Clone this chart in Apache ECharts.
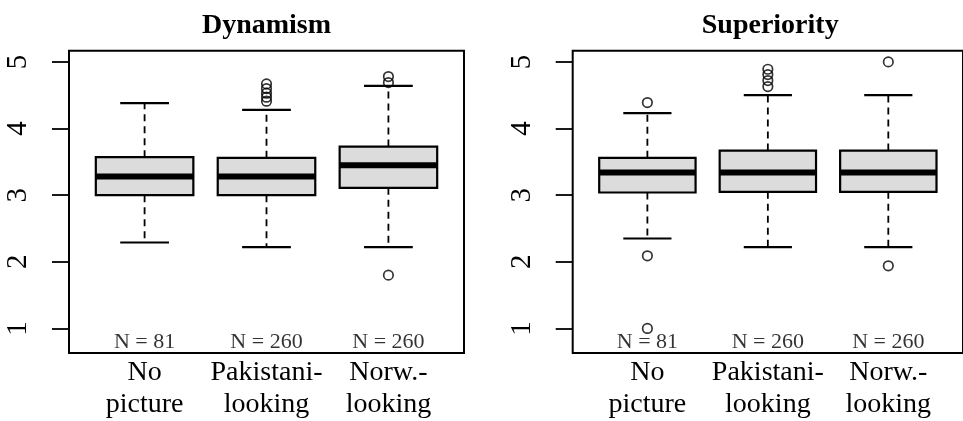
<!DOCTYPE html>
<html><head><meta charset="utf-8">
<script src="https://cdn.jsdelivr.net/npm/echarts@6/dist/echarts.min.js"></script>
<style>html,body{margin:0;padding:0;background:#fff}#c{width:963px;height:421px}</style>
</head><body><div id="c"></div>
<script>
const categories = ['No\npicture', 'Pakistani-\nlooking', 'Norw.-\nlooking'];
const nCounts = [81, 260, 260];
const yTicks = [1, 2, 3, 4, 5];
const panelTitles = ['Dynamism', 'Superiority'];
// each box: [lower whisker, Q1, median, Q3, upper whisker]
const dynamismBoxes = [
  [2.29, 3.00, 3.28, 3.57, 4.38],
  [2.22, 3.00, 3.28, 3.56, 4.28],
  [2.22, 3.11, 3.45, 3.73, 4.64]
];
// outliers: [category number, value]
const dynamismOutliers = [
  [2, 4.67], [2, 4.60], [2, 4.53], [2, 4.47], [2, 4.41],
  [3, 4.78], [3, 4.69], [3, 1.80]
];
const superiorityBoxes = [
  [2.35, 3.04, 3.34, 3.56, 4.23],
  [2.22, 3.05, 3.34, 3.67, 4.50],
  [2.22, 3.05, 3.34, 3.67, 4.50]
];
const superiorityOutliers = [
  [1, 4.39], [1, 2.09], [1, 1.00],
  [2, 4.89], [2, 4.81], [2, 4.72], [2, 4.63],
  [3, 5.00], [3, 1.94]
];

const SERIF = "'Liberation Serif', 'DejaVu Serif', serif";
const BOX_WIDTH = 0.8;
const N_LABEL_Y = 0.8;

function renderBox(params, api) {
  const x = api.value(0);
  const pLo = api.coord([x, api.value(1)]);
  const pQ1 = api.coord([x, api.value(2)]);
  const pMed = api.coord([x, api.value(3)]);
  const pQ3 = api.coord([x, api.value(4)]);
  const pHi = api.coord([x, api.value(5)]);
  const halfW = api.size([BOX_WIDTH, 0])[0] / 2;
  const capW = halfW / 2;
  const cx = pLo[0];
  const dash = { stroke: '#000', lineWidth: 1.8, lineDash: [7, 5], fill: null };
  const solid = { stroke: '#000', lineWidth: 2.2, fill: null };
  return {
    type: 'group',
    children: [
      { type: 'line', shape: { x1: cx, y1: pQ1[1], x2: cx, y2: pLo[1] }, style: dash },
      { type: 'line', shape: { x1: cx, y1: pQ3[1], x2: cx, y2: pHi[1] }, style: dash },
      { type: 'line', shape: { x1: cx - capW, y1: pLo[1], x2: cx + capW, y2: pLo[1] }, style: solid },
      { type: 'line', shape: { x1: cx - capW, y1: pHi[1], x2: cx + capW, y2: pHi[1] }, style: solid },
      { type: 'rect', shape: { x: cx - halfW, y: pQ3[1], width: 2 * halfW, height: pQ1[1] - pQ3[1] },
        style: { fill: '#dcdcdc', stroke: '#000', lineWidth: 2.2 } },
      { type: 'line', shape: { x1: cx - halfW, y1: pMed[1], x2: cx + halfW, y2: pMed[1] },
        style: { stroke: '#000', lineWidth: 6 } }
    ]
  };
}

const panels = [
  { boxes: dynamismBoxes, outliers: dynamismOutliers, left: 69 },
  { boxes: superiorityBoxes, outliers: superiorityOutliers, left: 572.7 }
];
const PW = 395;

const option = {
  animation: false,
  backgroundColor: '#fff',
  title: panels.map((p, i) => ({
    text: panelTitles[i],
    left: p.left + PW / 2,
    textAlign: 'center',
    top: 12,
    padding: 0,
    textStyle: { fontFamily: SERIF, fontWeight: 'bold', fontSize: 28, color: '#000' }
  })),
  grid: panels.map(p => ({
    left: p.left, top: 50.7, width: PW, height: 303,
    show: true, borderColor: '#000', borderWidth: 2, backgroundColor: 'transparent'
  })),
  xAxis: panels.map((p, i) => ({
    type: 'value', gridIndex: i, min: 0.38, max: 3.62,
    axisLine: { show: false }, axisTick: { show: false }, splitLine: { show: false },
    axisLabel: {
      customValues: [1, 2, 3],
      formatter: v => categories[Math.round(v) - 1],
      fontFamily: SERIF, fontSize: 28, lineHeight: 32, color: '#000', margin: 4
    }
  })),
  yAxis: panels.map((p, i) => ({
    type: 'value', gridIndex: i, min: 0.632, max: 5.168,
    axisLine: { show: false }, splitLine: { show: false },
    axisTick: { show: true, inside: false, length: 17, customValues: yTicks, lineStyle: { color: '#000', width: 1.8 } },
    axisLabel: {
      customValues: yTicks, rotate: 90,
      fontFamily: SERIF, fontSize: 29, color: '#000', margin: 36
    }
  })),
  series: []
};

panels.forEach((p, i) => {
  option.series.push({
    type: 'custom', xAxisIndex: i, yAxisIndex: i,
    renderItem: renderBox,
    encode: { x: 0, y: [1, 2, 3, 4, 5] },
    data: p.boxes.map((b, k) => [k + 1].concat(b)),
    z: 2
  });
  option.series.push({
    type: 'scatter', xAxisIndex: i, yAxisIndex: i,
    symbol: 'circle', symbolSize: 9.5,
    itemStyle: { color: 'rgba(0,0,0,0)', borderColor: '#000', borderWidth: 1.7 },
    data: p.outliers,
    z: 3
  });
  option.series.push({
    type: 'scatter', xAxisIndex: i, yAxisIndex: i,
    symbolSize: 1, itemStyle: { color: 'rgba(0,0,0,0)' },
    label: {
      show: true, position: 'inside',
      formatter: q => 'N = ' + q.value[2],
      fontFamily: SERIF, fontSize: 22, color: '#000'
    },
    data: nCounts.map((n, k) => [k + 1, N_LABEL_Y, n]),
    z: 4
  });
});

const chart = echarts.init(document.getElementById('c'), null, { renderer: 'canvas' });
chart.setOption(option);
</script>
</body></html>
